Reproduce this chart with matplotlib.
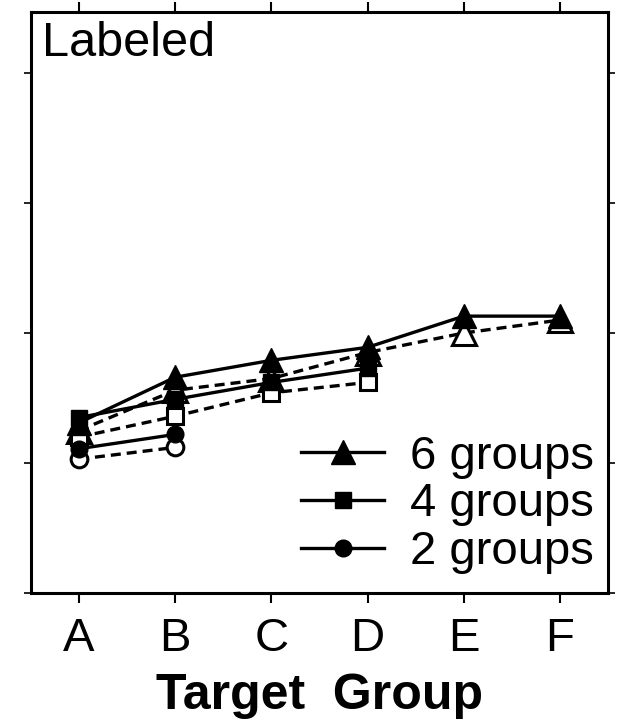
import matplotlib
matplotlib.use("Agg")
import matplotlib.pyplot as plt

plt.rcParams['font.family'] = ['Liberation Sans', 'DejaVu Sans']

# target groups on the x axis
groups = ['A', 'B', 'C', 'D', 'E', 'F']

# values (y axis has no labels, arbitrary units)
six_labeled = [1.31, 1.66, 1.79, 1.89, 2.13, 2.13]
six_unlabeled = [1.25, 1.56, 1.65, 1.85, 2.00, 2.10]
four_labeled = [1.35, 1.49, 1.62, 1.73]
four_unlabeled = [1.20, 1.36, 1.54, 1.62]
two_labeled = [1.11, 1.22]
two_unlabeled = [1.03, 1.12]

fig = plt.figure(figsize=(6.22, 7.22), dpi=100)
ax = fig.add_axes([0.0498, 0.1787, 0.9277, 0.8047])

lw = 2.4
dash = (0, (3.0, 1.8))

def draw(values, marker, ms, label):
    x = range(len(values))
    ax.plot(x, values, color='black', lw=lw, marker=marker, ms=ms,
            mfc='black', mec='black', label=label, zorder=3)

def draw_open(values, marker, ms):
    x = range(len(values))
    ax.plot(x, values, color='black', lw=lw, ls=dash, marker=marker, ms=ms,
            mfc='white', mec='black', mew=2.2, zorder=2)

draw_open(six_unlabeled, '^', 17)
draw_open(four_unlabeled, 's', 12)
draw_open(two_unlabeled, 'o', 12)
draw(six_labeled, '^', 17, '6 groups')
draw(four_labeled, 's', 12, '4 groups')
draw(two_labeled, 'o', 12, '2 groups')

ax.set_xlim(-0.5, 5.5)
ax.set_ylim(0, 4.47)
ax.set_xticks(range(len(groups)))
ax.set_xticklabels(groups, fontsize=34)
ax.set_yticks([0, 1, 2, 3, 4])
ax.set_yticklabels([])
ax.tick_params(axis='x', direction='out', length=7, width=1.5, top=True, pad=10)
ax.tick_params(axis='y', direction='out', length=5, width=1.2, right=True)
for s in ax.spines.values():
    s.set_linewidth(2.2)

ax.text(0.019, 0.985, 'Labeled', transform=ax.transAxes, fontsize=35,
        ha='left', va='top')
ax.set_xlabel('Target  Group', fontsize=36, fontweight='bold', labelpad=9)

leg = ax.legend(loc='lower right', bbox_to_anchor=(1.0, 0.008), frameon=False,
                fontsize=34, handlelength=1.75, handletextpad=0.55,
                labelspacing=0.08, borderaxespad=0.1, borderpad=0.2)

fig.savefig('out.png', dpi=100)
